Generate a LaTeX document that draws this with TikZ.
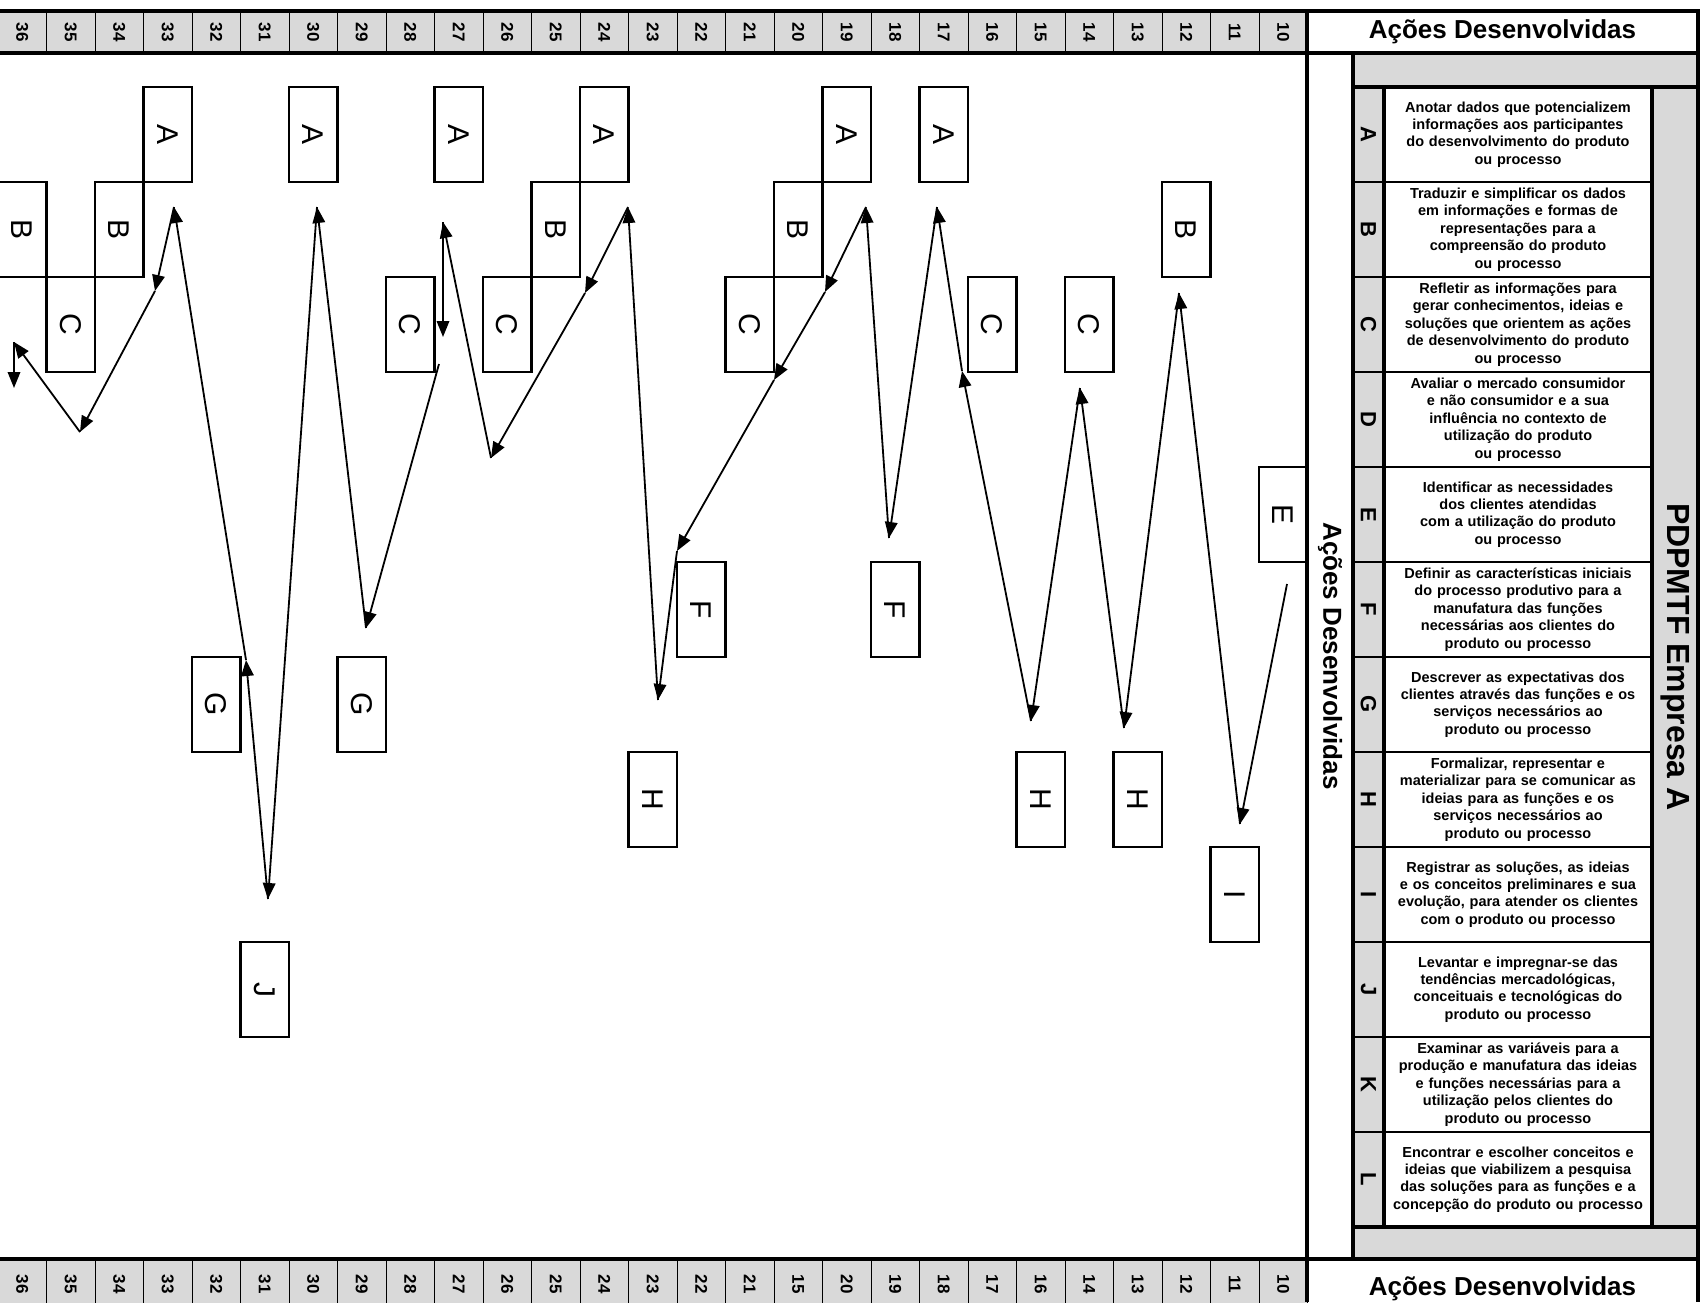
\documentclass[tikz,border=0pt]{standalone}
\usepackage{fontspec}
\setmainfont{Liberation Sans}
\usetikzlibrary{arrows.meta}

\definecolor{cellgray}{HTML}{D9D9D9}

\begin{document}
\begin{tikzpicture}[x=1pt, y=-1pt, >={Triangle[length=16pt, width=12.5pt]},
  numcell/.style={draw, fill=cellgray, line width=1pt, rotate=-90, inner sep=0pt,
    minimum width=42pt, minimum height=48.5pt, font=\fontsize{17}{17}\selectfont\bfseries},
  box/.style={draw, line width=2.5pt, rotate=-90, inner sep=0pt,
    minimum width=95pt, minimum height=48.5pt, font=\fontsize{30}{30}\selectfont},
  lettercell/.style={draw, line width=2.5pt, fill=cellgray, rotate=-90, inner sep=0pt,
    minimum width=95pt, minimum height=31pt, font=\fontsize{22}{22}\selectfont\bfseries},
  desc/.style={draw, line width=2.5pt, inner sep=0pt, minimum width=268pt,
    minimum height=95pt, text width=264pt, align=center,
    font=\fontsize{14.5}{17.4}\selectfont\bfseries},
  heavy/.style={line width=4pt},
  flow/.style={->, line width=1.8pt}]
  \useasboundingbox (0,0) rectangle (1706,1302);

  % number strips
  \foreach \n [count=\i from 0] in {36,35,...,10}
    \node[numcell] (top\n) at (22.25+48.5*\i, 32) {\n};
  \foreach \n [count=\i from 0] in {36,35,34,33,32,31,30,29,28,27,26,25,24,23,22,21,15,20,19,18,17,16,14,13,12,11,10}
    \node[numcell, minimum width=50pt] (bot\i) at (22.25+48.5*\i, 1284) {\n};

  \node[minimum width=391pt, minimum height=42pt, font=\fontsize{26}{26}\selectfont\bfseries] (headtop) at (1502.5,32) {Ações Desenvolvidas};
  \node[minimum width=391pt, minimum height=60pt, font=\fontsize{26}{26}\selectfont\bfseries] (headbot) at (1502.5,1289) {Ações Desenvolvidas};
  \node[rotate=-90, font=\fontsize{26}{26}\selectfont\bfseries] (acoes) at (1330,656) {Ações Desenvolvidas};

  % legend table
  \fill[cellgray] (1353,53) rectangle (1698,87);
  \fill[cellgray] (1353,1227) rectangle (1698,1259);
  \node[fill=cellgray, rotate=-90, inner sep=0pt, minimum width=1140pt, minimum height=46pt,
    font=\fontsize{32}{32}\selectfont\bfseries] (empresa) at (1675,657) {PDPMTF Empresa A};
  \foreach \ltr/\txt [count=\k from 0] in {
    A/{Anotar dados que potencializem\\informações aos participantes\\do desenvolvimento do produto\\ou processo},
    B/{Traduzir e simplificar os dados\\em informações e formas de\\representações para a\\compreensão do produto\\ou processo},
    C/{Refletir as informações para\\gerar conhecimentos, ideias e\\soluções que orientem as ações\\de desenvolvimento do produto\\ou processo},
    D/{Avaliar o mercado consumidor\\e não consumidor e a sua\\influência  no contexto de\\utilização do  produto\\ou processo},
    E/{Identificar as necessidades\\dos clientes atendidas\\com a utilização do produto\\ou processo},
    F/{Definir as características iniciais\\do processo produtivo para a\\manufatura das funções\\necessárias aos clientes do\\produto ou processo},
    G/{Descrever as expectativas dos\\clientes através das funções e os\\serviços necessários ao\\produto ou processo},
    H/{Formalizar, representar e\\materializar para se comunicar as\\ideias para as funções e os\\serviços necessários  ao\\produto ou processo},
    I/{Registrar as soluções, as ideias\\e os conceitos preliminares e sua\\evolução, para atender os clientes\\com o produto ou  processo},
    J/{Levantar e impregnar-se das\\tendências mercadológicas,\\conceituais e tecnológicas do\\produto ou processo},
    K/{Examinar as variáveis para a\\produção e manufatura das ideias\\e funções necessárias para a\\utilização pelos clientes do\\produto ou processo},
    L/{Encontrar e escolher conceitos e\\ideias que viabilizem a pesquisa\\das soluções para as funções e a\\concepção do produto ou processo}}
  {
    \node[lettercell] (l\ltr) at (1368.5, 134.5+95*\k) {\ltr};
    \node[desc] (d\ltr) at (1518, 134.5+95*\k) {\txt};
  }

  \draw[heavy] (0,11) -- (1700,11);
  \draw[heavy] (0,53) -- (1698,53);
  \draw[heavy] (0,1259) -- (1698,1259);
  \draw[heavy] (1307,9) -- (1307,1302);
  \draw[heavy] (1698,9) -- (1698,1302);
  \draw[heavy] (1353,53) -- (1353,1259);
  \draw[heavy] (1353,87) -- (1698,87);
  \draw[heavy] (1353,1227) -- (1698,1227);
  \draw[heavy] (1384,87) -- (1384,1227);
  \draw[heavy] (1652,87) -- (1652,1227);

  % actions
  \node[box] (a33) at (167.75,134.5) {A};
  \node[box] (a30) at (313.25,134.5) {A};
  \node[box] (a27) at (458.75,134.5) {A};
  \node[box] (a24) at (604.25,134.5) {A};
  \node[box] (a19) at (846.75,134.5) {A};
  \node[box] (a17) at (943.75,134.5) {A};
  \node[box] (b36) at (22.25,229.5) {B};
  \node[box] (b34) at (119.25,229.5) {B};
  \node[box] (b25) at (555.75,229.5) {B};
  \node[box] (b20) at (798.25,229.5) {B};
  \node[box] (b12) at (1186.25,229.5) {B};
  \node[box] (c35) at (70.75,324.5) {C};
  \node[box] (c28) at (410.25,324.5) {C};
  \node[box] (c26) at (507.25,324.5) {C};
  \node[box] (c21) at (749.75,324.5) {C};
  \node[box] (c16) at (992.25,324.5) {C};
  \node[box] (c14) at (1089.25,324.5) {C};
  \node[box] (e10) at (1283.25,514.5) {E};
  \node[box] (f22) at (701.25,609.5) {F};
  \node[box] (f18) at (895.25,609.5) {F};
  \node[box] (g32) at (216.25,704.5) {G};
  \node[box] (g29) at (361.75,704.5) {G};
  \node[box] (h23) at (652.75,799.5) {H};
  \node[box] (h15) at (1040.75,799.5) {H};
  \node[box] (h13) at (1137.75,799.5) {H};
  \node[box] (i11) at (1234.75,894.5) {I};
  \node[box] (j31) at (264.75,989.5) {J};

  \coordinate (t10) at (1287,584);
  \coordinate (t11) at (1240,824);
  \coordinate (t12) at (1179,293);
  \coordinate (t13) at (1124,728);
  \coordinate (t14) at (1080,388);
  \coordinate (t15) at (1031,721);
  \coordinate (t16) at (962,371);
  \coordinate (t17) at (937,207);
  \coordinate (t18) at (889,538);
  \coordinate (t19) at (866,207);
  \coordinate (t20) at (825,292);
  \coordinate (t21) at (774,380);
  \coordinate (t22) at (677,551);
  \coordinate (t23) at (658,700);
  \coordinate (t24) at (628,207);
  \coordinate (t25) at (585,293);
  \coordinate (t26) at (491,458);
  \coordinate (t27) at (443,222);
  \coordinate (t28) at (443,337);
  \coordinate (d28) at (439,364);
  \coordinate (t29) at (366,628);
  \coordinate (t30) at (317,207);
  \coordinate (t31) at (268,899);
  \coordinate (t32) at (246,660);
  \coordinate (t33) at (174,207);
  \coordinate (t34) at (155,291);
  \coordinate (t35) at (80,432);
  \coordinate (t36) at (14,342);
  \coordinate (t37) at (14,388);

  \draw[flow] (t10) -- (t11);
  \draw[flow] (t11) -- (t12);
  \draw[flow] (t12) -- (t13);
  \draw[flow] (t13) -- (t14);
  \draw[flow] (t14) -- (t15);
  \draw[flow] (t15) -- (t16);
  \draw[flow] (t16) -- (t17);
  \draw[flow] (t17) -- (t18);
  \draw[flow] (t18) -- (t19);
  \draw[flow] (t19) -- (t20);
  \draw[flow] (t20) -- (t21);
  \draw[flow] (t21) -- (t22);
  \draw[flow] (t22) -- (t23);
  \draw[flow] (t23) -- (t24);
  \draw[flow] (t24) -- (t25);
  \draw[flow] (t25) -- (t26);
  \draw[flow] (t26) -- (t27);
  \draw[flow] (t27) -- (t28);
  \draw[flow] (d28) -- (t29);
  \draw[flow] (t29) -- (t30);
  \draw[flow] (t30) -- (t31);
  \draw[flow] (t31) -- (t32);
  \draw[flow] (t32) -- (t33);
  \draw[flow] (t33) -- (t34);
  \draw[flow] (t34) -- (t35);
  \draw[flow] (t35) -- (t36);
  \draw[flow] (t36) -- (t37);
\end{tikzpicture}
\end{document}
